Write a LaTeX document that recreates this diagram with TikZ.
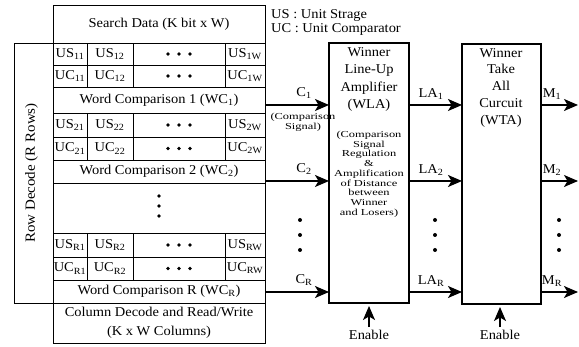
\documentclass[tikz,border=0pt]{standalone}
\usepackage{fontspec}
\setmainfont{Liberation Serif}[FakeStretch=1.07]
\newfontfamily\smallfont{Liberation Serif}[FakeStretch=1.35]
\usetikzlibrary{arrows.meta}
\tikzset{
  cell/.style={draw, line width=0.8pt, inner sep=0pt, outer sep=0pt},
  blk/.style={draw, line width=1.4pt, inner sep=0pt, outer sep=0pt},
  sig/.style={line width=1.3pt, -{Stealth[length=14pt,width=12pt,inset=3.5pt]}},
  lbl/.style={inner sep=0pt},
  small/.style={inner sep=0pt, font=\smallfont\fontsize{9.2}{9.7}\selectfont, align=center},
}
\newcommand\sub[1]{\textsubscript{#1}}
% \boxat[opts]{name}{x1}{y1}{x2}{y2}{text}
\newcommand\boxat[7][]{%
  \node[cell, minimum width={#5-#3}, minimum height={#6-#4}, #1] (#2) at ({(#3+#5)/2},{(#4+#6)/2}) {#7};}
\newcommand\cellrow[6]{%
  \boxat{#1a}{53}{#2}{87}{#3}{#4}
  \boxat{#1b}{87}{#2}{133}{#3}{#5}
  \boxat{#1c}{133}{#2}{225}{#3}{}
  \boxat{#1d}{225}{#2}{265}{#3}{#6}
  \fill (#1c.center) circle (1.8) ++(-11,0) circle (1.8) ++(22,0) circle (1.8);
}
\begin{document}
\begin{tikzpicture}[x=1pt,y=-1pt, font=\fontsize{13.5}{16}\selectfont]
\useasboundingbox (0,0) rectangle (579,347);
% table
\boxat{search}{53}{5}{265}{43}{Search Data (K bit x W)}
\cellrow{usa}{43}{65}{US\sub{11}}{US\sub{12}}{US\sub{1W}}
\cellrow{uca}{65}{87}{UC\sub{11}}{UC\sub{12}}{UC\sub{1W}}
\boxat{wca}{53}{87}{265}{113}{Word Comparison 1 (WC\sub{1})}
\cellrow{usb}{113}{137}{US\sub{21}}{US\sub{22}}{US\sub{2W}}
\cellrow{ucb}{137}{160}{UC\sub{21}}{UC\sub{22}}{UC\sub{2W}}
\boxat{wcb}{53}{160}{265}{183}{Word Comparison 2 (WC\sub{2})}
\boxat{gap}{53}{183}{265}{233}{}
\fill (gap.center) ++(0,-2) circle (1.8) ++(0,-10) circle (1.8) ++(0,20) circle (1.8);
\cellrow{usr}{233}{257}{US\sub{R1}}{US\sub{R2}}{US\sub{RW}}
\cellrow{ucr}{257}{280}{UC\sub{R1}}{UC\sub{R2}}{UC\sub{RW}}
\boxat{wcr}{53}{280}{265}{303}{Word Comparison R (WC\sub{R})}
\boxat[align=center, font=\fontsize{13.5}{19}\selectfont]{coldec}{53}{303}{265}{343}{Column Decode and Read/Write\\(K x W Columns)}
\boxat{rowdec}{14}{43}{53}{303}{}
\node[lbl, rotate=90, font=\fontsize{14}{16}\selectfont] (rowtxt) at ([xshift=-2pt]rowdec.center) {Row Decode (R Rows)};
% legend
\node[lbl, anchor=west] (lgus) at (271,15) {US : Unit Strage};
\node[lbl, anchor=west] (lguc) at (271,29) {UC : Unit Comparator};
% WLA
\boxat[blk]{wla}{329}{43}{409}{303}{}
\node[lbl, align=center, anchor=north, font=\fontsize{13.5}{17.5}\selectfont] (wlat) at (369,47) {Winner\\Line-Up\\Amplifier\\(WLA)};
\node[small, anchor=north] (wlas) at (369,131) {(Comparison\\Signal\\Regulation\\\&\\Amplification\\of Distance\\between\\Winner\\and Losers)};
% WTA
\boxat[blk]{wta}{462}{44}{541}{304}{}
\node[lbl, align=center, anchor=north, font=\fontsize{13.5}{16.8}\selectfont] (wtat) at (501,48) {Winner\\Take\\All\\Curcuit\\(WTA)};
% C arrows
\coordinate (ca) at (wca.east |- 0,105);
\coordinate (cb) at (wcb.east |- 0,181);
\coordinate (cr) at (wcr.east |- 0,292);
\draw[sig] (ca) -- (ca -| wla.west);
\draw[sig] (cb) -- (cb -| wla.west);
\draw[sig] (cr) -- (cr -| wla.west);
\node[lbl] (cal) at (304,93) {C\sub{1}};
\node[small] (cmp) at (303,122) {(Comparison\\Signal)};
\node[lbl] (cbl) at (304,169) {C\sub{2}};
\node[lbl] (crl) at (304,280) {C\sub{R}};
\fill (300,220) circle (2) (300,235) circle (2) (300,250) circle (2);
% LA arrows
\coordinate (laa) at (wla.east |- 0,105);
\coordinate (lab) at (wla.east |- 0,181);
\coordinate (lar) at (wla.east |- 0,292);
\draw[sig] (laa) -- (laa -| wta.west);
\draw[sig] (lab) -- (lab -| wta.west);
\draw[sig] (lar) -- (lar -| wta.west);
\node[lbl] (laal) at (431,94) {LA\sub{1}};
\node[lbl] (labl) at (431,170) {LA\sub{2}};
\node[lbl] (larl) at (431,281) {LA\sub{R}};
\fill (435,220) circle (2) (435,235) circle (2) (435,250) circle (2);
% M arrows
\coordinate (ma) at (wta.east |- 0,105);
\coordinate (mb) at (wta.east |- 0,181);
\coordinate (mr) at (wta.east |- 0,292);
\coordinate (mae) at (578,105);
\coordinate (mbe) at (578,181);
\coordinate (mre) at (578,292);
\draw[sig] (ma) -- (mae);
\draw[sig] (mb) -- (mbe);
\draw[sig] (mr) -- (mre);
\node[lbl] (mal) at (552,94) {M\sub{1}};
\node[lbl] (mbl) at (552,170) {M\sub{2}};
\node[lbl] (mrl) at (552,281) {M\sub{R}};
\fill (559,220) circle (2) (559,235) circle (2) (559,250) circle (2);
% Enable
\node[lbl] (ena) at (369,335) {Enable};
\node[lbl] (enb) at (500,335) {Enable};
\draw[sig] (ena.north) ++(0,-3) coordinate (enas) -- (enas |- 0,306);
\draw[sig] (enb.north) ++(0,-3) coordinate (enbs) -- (enbs |- 0,307);
\end{tikzpicture}
\end{document}
